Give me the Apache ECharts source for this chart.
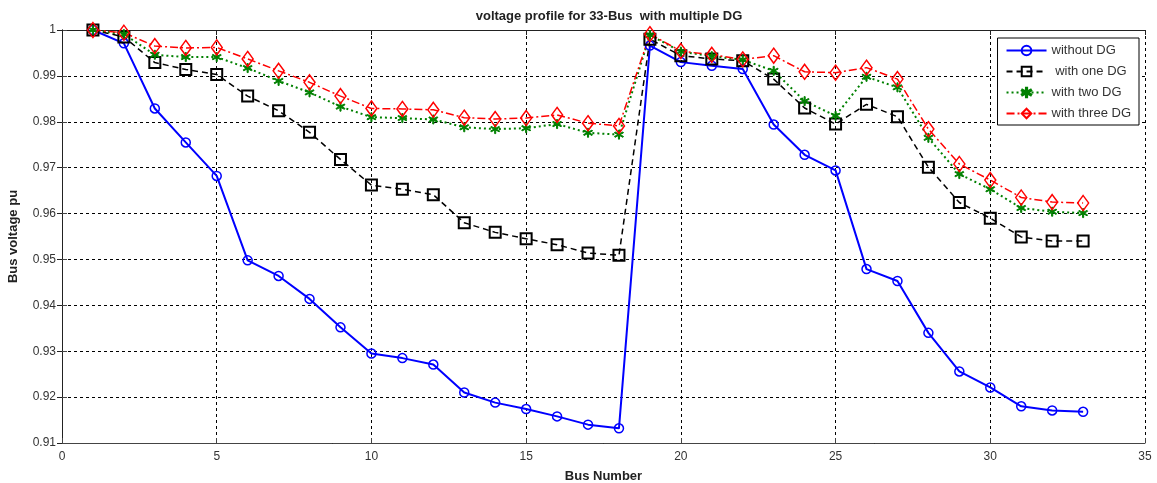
<!DOCTYPE html>
<html>
<head>
<meta charset="utf-8">
<script src="https://cdn.jsdelivr.net/npm/echarts@6/dist/echarts.min.js"></script>
<style>
  html, body { margin: 0; padding: 0; background: #fff; }
  #chart { width: 1157px; height: 483px; }
</style>
</head>
<body>
<div id="chart"></div>
<script>
// bus numbers 1..33
var buses = [1,2,3,4,5,6,7,8,9,10,11,12,13,14,15,16,17,18,19,20,21,22,23,24,25,26,27,28,29,30,31,32,33]

var withoutDG = [1.0000,0.9971,0.9829,0.9755,0.9682,0.9498,0.9464,0.9414,0.9352,0.9295,0.9285,0.9271,
  0.9210,0.9188,0.9174,0.9158,0.9140,0.9132,0.9966,0.9930,0.9922,0.9915,0.9794,0.9728,0.9694,
  0.9479,0.9453,0.9340,0.9256,0.9221,0.9180,0.9171,0.9168]
var withOneDG = [1.0000,0.9985,0.9929,0.9914,0.9903,0.9856,0.9824,0.9777,0.9718,0.9662,0.9653,0.9641,
  0.9580,0.9559,0.9545,0.9532,0.9514,0.9509,0.9980,0.9944,0.9937,0.9933,0.9893,0.9830,0.9795,
  0.9838,0.9811,0.9701,0.9624,0.9590,0.9549,0.9540,0.9540]
var withTwoDG = [1.0000,0.9991,0.9946,0.9941,0.9941,0.9917,0.9889,0.9864,0.9833,0.9810,0.9808,0.9805,
  0.9788,0.9784,0.9786,0.9795,0.9776,0.9772,0.9989,0.9953,0.9943,0.9935,0.9911,0.9845,0.9813,
  0.9898,0.9875,0.9765,0.9686,0.9653,0.9612,0.9604,0.9601]
var withThreeDG = [1.0000,0.9994,0.9965,0.9961,0.9962,0.9937,0.9911,0.9886,0.9856,0.9829,0.9828,0.9826,
  0.9809,0.9806,0.9808,0.9815,0.9797,0.9791,0.9991,0.9954,0.9946,0.9936,0.9944,0.9909,0.9907,
  0.9918,0.9893,0.9784,0.9708,0.9673,0.9635,0.9625,0.9623]

function pairs (ys) {
  return buses.map(function (b, i) { return [b, ys[i]] })
}

var asterisk = 'path://M4.5,0 L5.5,0 L5.5,3.6 L8.6,1.8 L9.1,2.7 L6,4.5 L9.1,6.3 L8.6,7.2 L5.5,5.4 L5.5,9 L4.5,9 L4.5,5.4 L1.4,7.2 L0.9,6.3 L4,4.5 L0.9,2.7 L1.4,1.8 L4.5,3.6 Z'

var font = 'Arial, "Liberation Sans", sans-serif'

var chart = echarts.init(document.getElementById('chart'))
var option = {
  animation: false,
  backgroundColor: '#fff',
  textStyle: { fontFamily: font },
  title: {
    text: 'voltage profile for 33-Bus  with multiple DG',
    left: 604,
    top: 5,
    textAlign: 'center',
    textStyle: { fontSize: 13, fontWeight: 'bold', color: '#222', fontFamily: font }
  },
  legend: {
    orient: 'vertical',
    right: 18,
    top: 38,
    itemWidth: 40,
    itemHeight: 12,
    itemGap: 8,
    padding: [6, 8, 5, 8],
    borderColor: '#000',
    borderWidth: 1,
    backgroundColor: '#fff',
    textStyle: { fontSize: 13, color: '#333', fontFamily: font },
    data: ['without DG', ' with one DG', 'with two DG', 'with three DG']
  },
  grid: { left: 62, right: 12, top: 30, bottom: 40, containLabel: false, outerBoundsMode: 'none' },
  xAxis: [{
    type: 'value',
    min: 0,
    max: 35,
    interval: 5,
    name: 'Bus Number',
    nameLocation: 'middle',
    nameGap: 27,
    nameTextStyle: { fontSize: 13, fontWeight: 'bold', color: '#222' },
    axisLine: { show: true, lineStyle: { color: '#444', width: 1 } },
    axisTick: { inside: true, length: 5, lineStyle: { color: '#444' } },
    axisLabel: { fontSize: 12, color: '#333', margin: 8 },
    splitLine: { show: true, lineStyle: { color: '#000', type: [3, 3], width: 1 } }
  }, {
    type: 'value',
    position: 'top',
    min: 0,
    max: 35,
    interval: 5,
    axisLine: { show: true, lineStyle: { color: '#222', width: 1 } },
    axisTick: { inside: true, length: 5, lineStyle: { color: '#222' } },
    axisLabel: { show: false },
    splitLine: { show: false }
  }],
  yAxis: [{
    type: 'value',
    min: 0.91,
    max: 1,
    interval: 0.01,
    name: 'Bus voltage pu',
    nameLocation: 'middle',
    nameGap: 42,
    nameTextStyle: { fontSize: 13, fontWeight: 'bold', color: '#222' },
    axisLine: { show: true, lineStyle: { color: '#444', width: 1 } },
    axisTick: { inside: true, length: 5, lineStyle: { color: '#444' } },
    axisLabel: {
      fontSize: 12, color: '#333', margin: 6,
      formatter: function (v) { return parseFloat(v.toFixed(2)).toString() }
    },
    splitLine: { show: true, lineStyle: { color: '#000', type: [3, 3], width: 1 } }
  }, {
    type: 'value',
    position: 'right',
    min: 0.91,
    max: 1,
    interval: 0.01,
    axisLine: { show: true, lineStyle: { color: '#222', width: 1 } },
    axisTick: { inside: true, length: 5, lineStyle: { color: '#222' } },
    axisLabel: { show: false },
    splitLine: { show: false }
  }],
  series: [
    {
      name: 'without DG',
      type: 'line',
      data: pairs(withoutDG),
      symbol: 'circle',
      symbolSize: 9,
      lineStyle: { color: '#0000ff', width: 2 },
      itemStyle: { color: 'rgba(0,0,0,0)', borderColor: '#0000ff', borderWidth: 1.5 }
    },
    {
      name: ' with one DG',
      type: 'line',
      data: pairs(withOneDG),
      symbol: 'rect',
      symbolSize: 11,
      lineStyle: { color: '#000', width: 1.5, type: [6, 4] },
      itemStyle: { color: 'rgba(0,0,0,0)', borderColor: '#000', borderWidth: 2 }
    },
    {
      name: 'with two DG',
      type: 'line',
      data: pairs(withTwoDG),
      symbol: asterisk,
      symbolSize: 9,
      lineStyle: { color: '#008000', width: 2, type: [2, 3] },
      itemStyle: { color: '#008000', borderColor: '#008000', borderWidth: 1 }
    },
    {
      name: 'with three DG',
      type: 'line',
      data: pairs(withThreeDG),
      symbol: 'diamond',
      symbolSize: [11, 15],
      lineStyle: { color: '#ff0000', width: 1.5, type: [8, 3, 2, 3] },
      itemStyle: { color: 'rgba(0,0,0,0)', borderColor: '#ff0000', borderWidth: 1.5 }
    }
  ]
}
chart.setOption(option)
</script>
</body>
</html>
